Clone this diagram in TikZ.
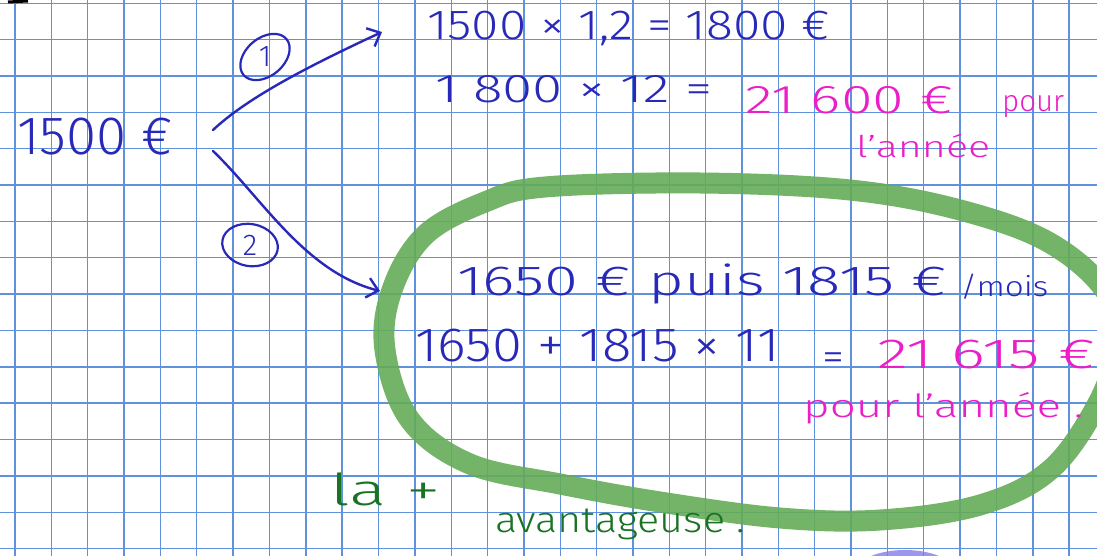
\documentclass[tikz,border=0pt]{standalone}
\usepackage{fontspec}
\usepackage{graphicx}
\setmainfont{Fira Sans Light}
\usetikzlibrary{arrows.meta,shapes.geometric}
\definecolor{inkblue}{RGB}{40,40,185}
\definecolor{inkpink}{RGB}{235,30,200}
\definecolor{inkgreen}{RGB}{25,115,35}
\definecolor{hilite}{RGB}{100,172,88}
\definecolor{gridblue}{RGB}{95,145,220}
\definecolor{blobcol}{RGB}{130,125,230}
\newcommand{\fs}[1]{\fontsize{#1}{#1}\selectfont}
\newcommand{\fitw}[3]{\resizebox{#1pt}{\height}{\fs{#2}#3}}
\begin{document}
\begin{tikzpicture}[x=1pt,y=-1pt,
  gridline/.style={draw=gridblue,line width=1.4pt},
  hand/.style={inner sep=0pt,anchor=base west},
  blueink/.style={hand,text=inkblue},
  pinkink/.style={hand,text=inkpink},
  greenink/.style={hand,text=inkgreen},
  penarrow/.style={draw=inkblue,line width=2.4pt,line cap=round,-{Straight Barb[length=11pt,width=20pt,line width=2.4pt]}},
  tagtext/.style={inner sep=0pt,text=inkblue},
  tagring/.style={draw=inkblue,line width=2.2pt}]
\useasboundingbox (0,0) rectangle (1097,556);
\fill[white] (0,0) rectangle (1097,556);
% squared paper
\foreach \i in {0,...,29} \draw[gridline] ({15+36.35*\i},0) -- ({15+36.35*\i},556);
\foreach \j in {0,...,15} \draw[gridline] (0,{3.3+36.35*\j}) -- (1097,{3.3+36.35*\j});
% small mark at the top edge
\draw[black,line width=3pt] (8,2) -- (28,1);
\begin{scope}
\clip (0,0) rectangle (1097,556);
\fill[blobcol,opacity=0.8] (905,578) ellipse [x radius=55,y radius=28];
% green highlight
\draw[hilite,line width=21pt,opacity=0.9,line join=round] plot[smooth cycle,tension=0.6] coordinates {
  (545,187) (700,183) (850,190) (960,210) (1050,243) (1108,295) (1115,350)
  (1097,405) (1050,470) (980,505) (880,520) (780,518) (660,502) (560,484)
  (470,464) (410,420) (385,350) (392,290) (425,235) (485,202)};
\end{scope}
% start amount
\node[blueink] (start) at (17,155) {\fitw{156}{54}{1500 €}};
\coordinate (s1) at (213,130);
\coordinate (s2) at (213,151);
% option 1
\node[blueink] (l1) at (427,40) {\fitw{403}{42}{1500 × 1,2 = 1800 €}};
\node[blueink] (l2) at (435,103) {\fitw{277}{40}{1 800 × 12 =}};
\node[pinkink] (r1) at (745,114) {\fitw{208}{40}{21 600 €}};
\node[pinkink] (p1) at (1002,112) {\fitw{62}{30}{pour}};
\node[pinkink] (a1) at (856,158) {\fitw{134}{30}{l'année}};
% option 2
\node[blueink] (l3) at (457,295) {\fitw{490}{42}{1650 € puis 1815 €}};
\node[blueink] (m3) at (960,296) {\fitw{88}{28}{/mois}};
\node[blueink] (l4) at (415,361) {\fitw{365}{48}{1650 + 1815 × 11}};
\node[blueink] (eq) at (822,370) {\fitw{22}{40}{=}};
\node[pinkink] (r2) at (877,368) {\fitw{218}{42}{21 615 €}};
\node[pinkink] (a2) at (803,417) {\fitw{280}{32}{pour l'année .}};
% conclusion
\node[greenink] (c1) at (330,505) {\fitw{110}{44}{la +}};
\node[greenink] (c2) at (495,532) {\fitw{250}{36}{avantageuse .}};
% arrows and tags
\coordinate (e1) at (382,32);
\coordinate (e2) at (380,291);
\draw[penarrow] (s1) .. controls (245,100) and (300,70) .. (e1);
\draw[penarrow] (s2) .. controls (262,198) and (305,272) .. (e2);
\node[tagtext] (t1) at (265,57) {\fs{30}1};
\draw[tagring,rotate around={40:(t1)}] (t1) ellipse [x radius=28,y radius=19];
\node[tagtext] (t2) at (250,245) {\fs{30}2};
\draw[tagring,rotate around={-10:(t2)}] (t2) ellipse [x radius=28,y radius=21];
\end{tikzpicture}
\end{document}
